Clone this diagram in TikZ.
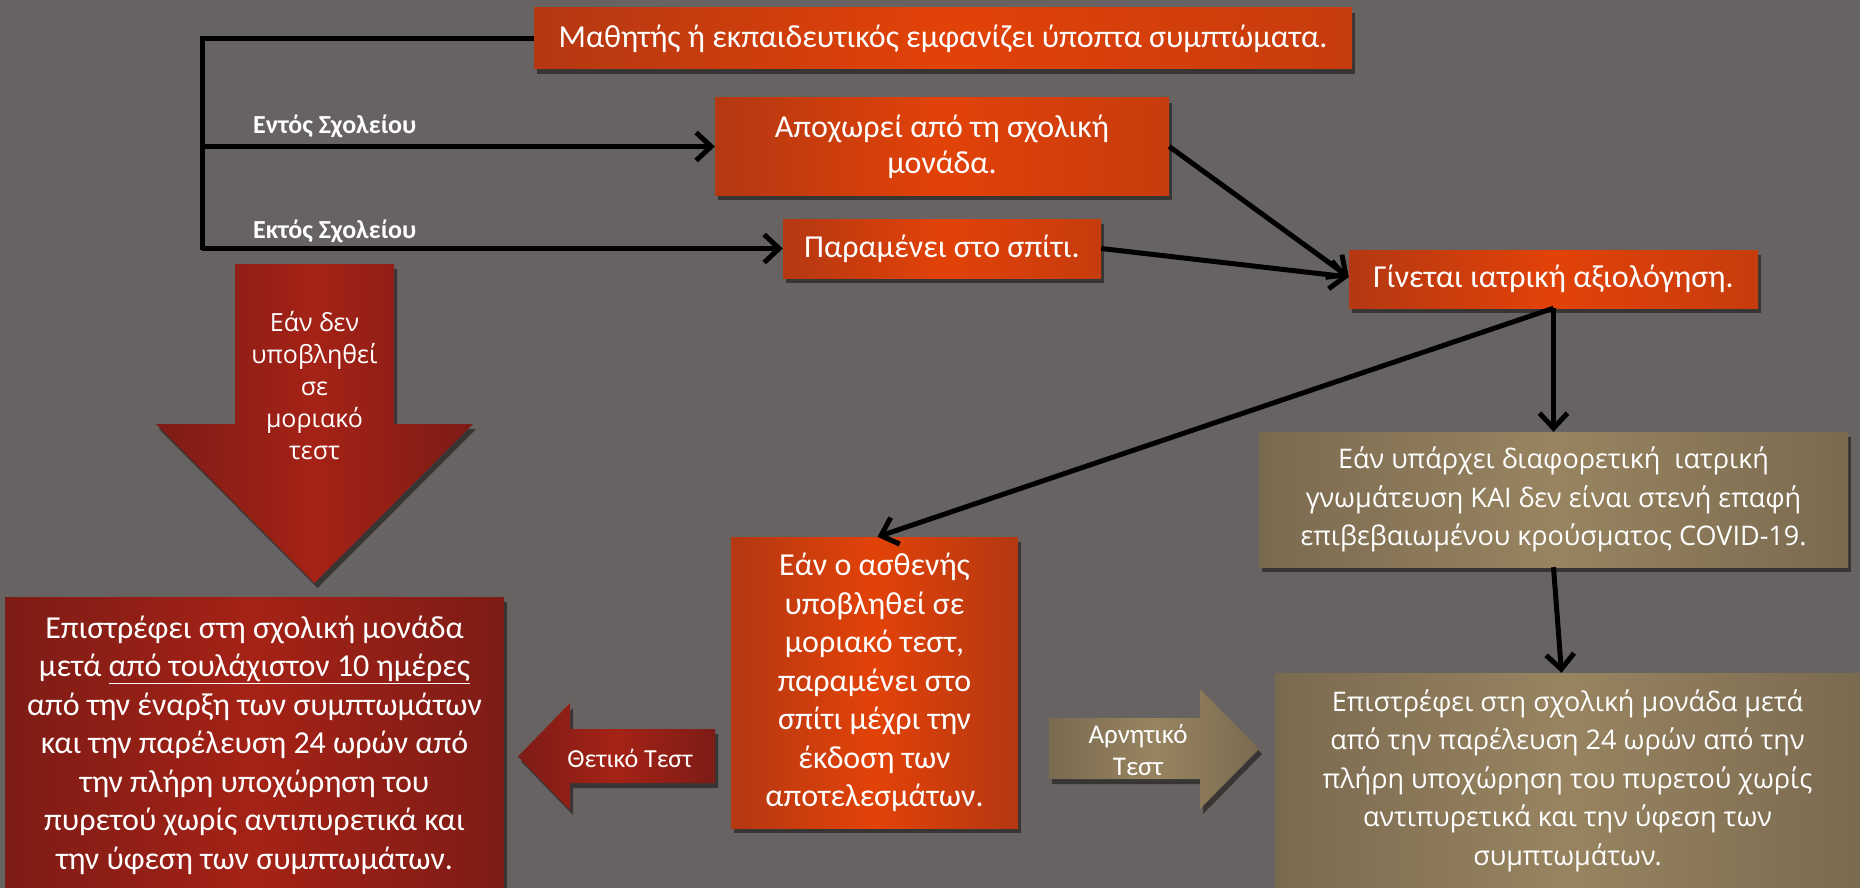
\documentclass[tikz,border=0pt]{standalone}
\usepackage{fontspec}
\setmainfont{Carlito}
\newfontfamily\gillish{Open Sans}
\usetikzlibrary{arrows.meta,shadows,calc}
\definecolor{bg}{RGB}{103,99,98}
\definecolor{orD}{RGB}{180,56,18}
\definecolor{orL}{RGB}{226,66,8}
\definecolor{rdD}{RGB}{125,28,22}
\definecolor{rdL}{RGB}{165,34,22}
\definecolor{tnD}{RGB}{122,106,80}
\definecolor{tnL}{RGB}{152,132,96}
\tikzset{
  shad/.style={drop shadow={shadow xshift=3pt,shadow yshift=-5pt,opacity=.45,fill=black}},
  box/.style={rectangle,inner sep=0pt,text=white,align=center,shad,
    font=\fontsize{32}{38.5}\selectfont},
  oshade/.style={left color=orD,right color=orD!60!orL,middle color=orL},
  rshade/.style={left color=rdD,right color=rdD,middle color=rdL},
  tshade/.style={left color=tnD,right color=tnD,middle color=tnL},
  obox/.style={box,oshade},
  rbox/.style={box,rshade},
  tbox/.style={box,tshade,font=\gillish\fontsize{27}{38.5}\selectfont},
  txt/.style={text=white,align=center,inner sep=0pt},
  lbl/.style={text=white,inner sep=0pt,font=\bfseries\fontsize{26}{30}\selectfont},
  conn/.style={line width=5pt,draw=black,
    -{Straight Barb[length=15pt,width=28pt,line width=5pt]}},
  plain/.style={line width=5pt,draw=black}
}
\begin{document}
\begin{tikzpicture}[x=1pt,y=-1pt]
\fill[bg] (0,0) rectangle (1860,888);
\useasboundingbox (0,0) rectangle (1860,888);

% boxes
\node[obox,minimum width=818pt,minimum height=61pt] (b1) at (943,38.5)
  {Μαθητής ή εκπαιδευτικός εμφανίζει ύποπτα συμπτώματα.};
\node[obox,minimum width=454pt,minimum height=97pt,font=\fontsize{32}{36}\selectfont] (b2) at (942,146.5)
  {Αποχωρεί από τη σχολική\\μονάδα.};
\node[obox,minimum width=318pt,minimum height=59pt] (b3) at (942,248.5)
  {Παραμένει στο σπίτι.};
\node[obox,minimum width=409pt,minimum height=58pt] (b4) at (1553.5,279)
  {Γίνεται ιατρική αξιολόγηση.};
\node[tbox,minimum width=589pt,minimum height=135pt] (t1) at (1553.5,499.5)
  {Εάν υπάρχει διαφορετική \ ιατρική\\γνωμάτευση ΚΑΙ δεν είναι στενή επαφή\\επιβεβαιωμένου κρούσματος COVID-19.};
\node[tbox,minimum width=585pt,minimum height=215pt] (t2) at (1567.5,780.5)
  {Επιστρέφει στη σχολική μονάδα μετά\\από την παρέλευση 24 ωρών από την\\πλήρη υποχώρηση του πυρετού χωρίς\\αντιπυρετικά και την ύφεση των\\συμπτωμάτων.};
\node[obox,minimum width=287pt,minimum height=291pt,left color=orD,right color=orD,middle color=orL] (m) at (874.5,682.5)
  {Εάν ο ασθενής\\υποβληθεί σε\\μοριακό τεστ,\\παραμένει στο\\σπίτι μέχρι την\\έκδοση των\\αποτελεσμάτων.};
\node[rbox,minimum width=499pt,minimum height=296pt] (r) at (254.5,745)
  {Επιστρέφει στη σχολική μονάδα\\μετά \underline{από τουλάχιστον 10 ημέρες}\\από την έναρξη των συμπτωμάτων\\και την παρέλευση 24 ωρών από\\την πλήρη υποχώρηση του\\πυρετού χωρίς αντιπυρετικά και\\την ύφεση των συμπτωμάτων.};

% block arrows
\path[rshade,shad] (235,264) -- (394,264) -- (394,424) -- (473,424) -- (314.5,583)
  -- (156,424) -- (235,424) -- cycle;
\node[txt,font=\gillish\fontsize{25}{32}\selectfont] (down) at (314.5,386)
  {Εάν δεν\\υποβληθεί\\σε\\μοριακό\\τεστ};
\path[rshade,shad] (715,729) -- (570,729) -- (570,703) -- (518,756.5) -- (570,810)
  -- (570,783) -- (715,783) -- cycle;
\node[txt,font=\fontsize{26}{30}\selectfont] (pos) at (630,758) {Θετικό Τεστ};
\path[tshade,shad] (1049,718) -- (1200,718) -- (1200,689) -- (1259,749) -- (1200,809)
  -- (1200,779) -- (1049,779) -- cycle;
\node[txt,font=\fontsize{27}{32}\selectfont] (neg) at (1138,750) {Αρνητικό\\Τεστ};

% connectors
\coordinate (tl) at (202,38.5);
\coordinate (bl) at (202,250);
\draw[plain] (b1.west) -- (tl) -- (bl);
\draw[conn] (tl |- b2.west) -- (b2.west);
\draw[conn] (bl |- b3.west) -- (b3.west);
\node[lbl,anchor=west] (in) at (253,126) {Εντός Σχολείου};
\node[lbl,anchor=west] (out) at (253,231) {Εκτός Σχολείου};
\draw[conn] (b2.east) -- ([yshift=2pt]b4.west);
\draw[conn] (b3.east) -- ([yshift=2pt]b4.west);
\draw[conn] (b4.south) -- ([xshift=3pt]m.north);
\draw[conn] (b4.south) -- (t1.north);
\draw[conn] (t1.south) -- ([xshift=-6pt]t2.north);
\end{tikzpicture}
\end{document}
